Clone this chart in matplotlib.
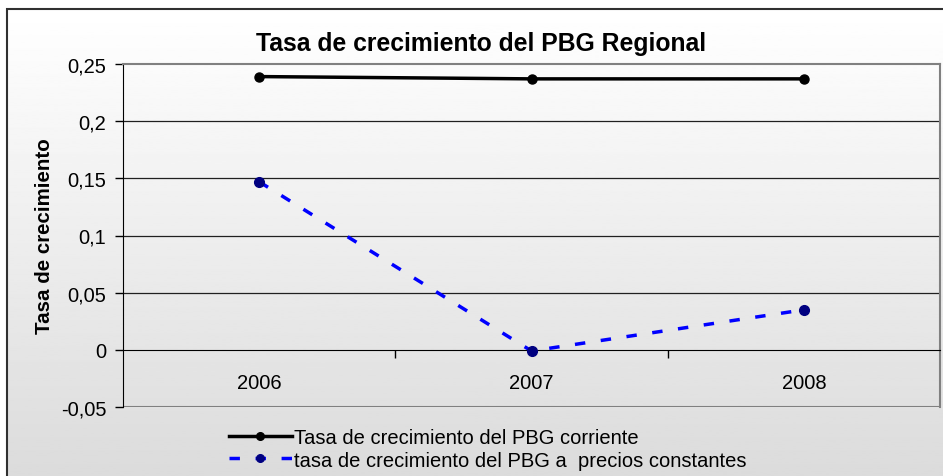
import numpy as np
import matplotlib
matplotlib.use('Agg')
import matplotlib.pyplot as plt
from matplotlib.ticker import FuncFormatter, FixedLocator
from matplotlib.patches import Rectangle

plt.rcParams['font.family'] = ['Liberation Sans', 'DejaVu Sans']

years = ['2006', '2007', '2008']
corriente = [0.239, 0.237, 0.237]
constantes = [0.147, -0.001, 0.035]
yticks = [-0.05, 0, 0.05, 0.1, 0.15, 0.2, 0.25]

fig = plt.figure(figsize=(9.43, 4.77), dpi=100)

# background gradient of the chart area (white at top, light grey at bottom)
bg = fig.add_axes([7 / 943, 0, 1 - 7 / 943, 467 / 477], zorder=-10)
grad = np.linspace(1.0, 0.86, 256).reshape(-1, 1)
bg.imshow(grad, aspect='auto', cmap='gray', vmin=0, vmax=1, extent=[0, 1, 0, 1])
bg.set_axis_off()
fig.patches.append(Rectangle((7 / 943, -0.1), 1.2, 467 / 477 + 0.1, transform=fig.transFigure,
                             fill=False, edgecolor='#303030', linewidth=1.5, zorder=5))

ax = fig.add_axes([123 / 943, 69 / 477, 817 / 943, 343 / 477])
ax.set_facecolor('none')
x = np.arange(len(years))

ax.plot(x, corriente, color='black', lw=2.5, marker='o', ms=6.5,
        label='Tasa de crecimiento del PBG corriente', zorder=4)
ax.plot(x, constantes, color='#0000ff', lw=2.5, dashes=(3, 4.5), marker='o', ms=7,
        mfc='#000080', mec='#000080', label='tasa de crecimiento del PBG a  precios constantes', zorder=4)

ax.set_xlim(-0.5, 2.5)
ax.set_ylim(-0.05, 0.25)

ax.yaxis.set_major_locator(FixedLocator(yticks))
ax.yaxis.set_major_formatter(FuncFormatter(lambda v, p: ('%g' % round(v, 2)).replace('.', ',')))
ax.tick_params(axis='y', direction='out', length=6, width=1, labelsize=14.5, pad=6)

ax.set_xticks(x)
ax.set_xticklabels(years)
ax.set_xticks([0.5, 1.5], minor=True)
ax.tick_params(axis='x', which='major', length=0, labelsize=14.5, pad=17)
ax.tick_params(axis='x', which='minor', direction='out', length=6, width=1)

for v in [0.05, 0.1, 0.15, 0.2]:
    ax.axhline(v, color='#202020', lw=0.9, zorder=1)
ax.axhline(-0.05, color='#808080', lw=1.5, zorder=1)

ax.spines['bottom'].set_position(('data', 0))
ax.spines['bottom'].set_color('black')
ax.spines['left'].set_color('black')
ax.spines['top'].set_color('#808080')
ax.spines['right'].set_color('#808080')
ax.spines['top'].set_linewidth(1.5)
ax.spines['right'].set_linewidth(1.5)

ax.set_ylabel('Tasa de crecimiento', fontsize=14.8, fontweight='bold', labelpad=5)
fig.text(0.51, 0.907, 'Tasa de crecimiento del PBG Regional', ha='center', va='center',
         fontsize=17.8, fontweight='bold')

leg = fig.legend(loc='center left', bbox_to_anchor=(219 / 943, 27 / 477), frameon=False,
                 fontsize=14.5, handlelength=3.1, handletextpad=0.1, labelspacing=0.15,
                 borderpad=0)
for h in leg.legend_handles:
    h.set_markersize(5.5)

fig.savefig('out.png', dpi=100)
